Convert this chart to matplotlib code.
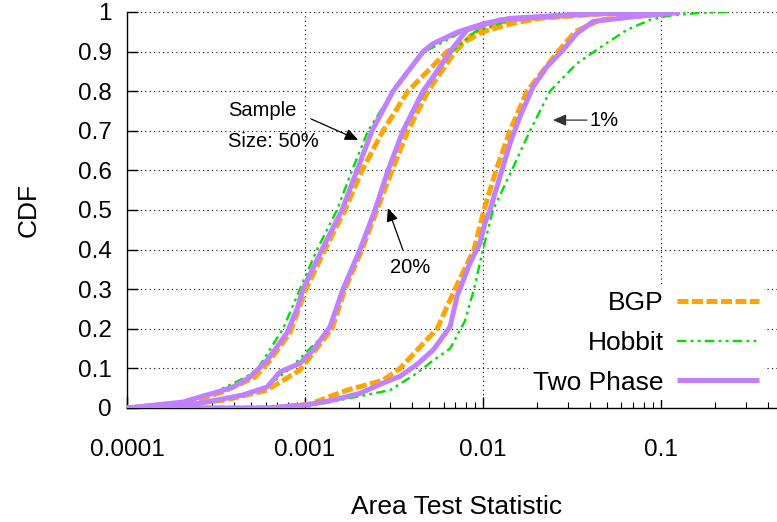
import matplotlib
matplotlib.use("Agg")
import matplotlib.pyplot as plt
from matplotlib.ticker import LogLocator, FixedLocator, NullFormatter, FixedFormatter

plt.rcParams['font.family'] = ['Liberation Sans', 'DejaVu Sans']
plt.rcParams['xtick.direction'] = 'in'
plt.rcParams['ytick.direction'] = 'in'
plt.rcParams['xtick.major.pad'] = 22
plt.rcParams['ytick.major.pad'] = 11
plt.rcParams['xtick.major.size'] = 8
plt.rcParams['ytick.major.size'] = 8
plt.rcParams['xtick.minor.size'] = 4.5
plt.rcParams['xtick.major.width'] = 1.0
plt.rcParams['ytick.major.width'] = 1.0
plt.rcParams['xtick.minor.width'] = 0.8

# ---- CDF curves of the area test statistic, per sample size and method ----
# Sample size 50%
bgp_50_x = [1.0e-4, 2.259e-4, 3.418e-4, 5.24e-4, 6.36e-4, 8.24e-4, 1.013e-3, 1.295e-3,
            1.678e-3, 2.090e-3, 2.743e-3, 3.79e-3, 6.28e-3, 1.0e-2, 1.418e-2, 2.090e-2,
            4.54e-2, 0.1278]
bgp_50_cdf = [0, 0.015, 0.04, 0.078, 0.12, 0.19, 0.3, 0.4, 0.5, 0.6, 0.7, 0.8, 0.9,
              0.95, 0.97, 0.984, 0.995, 1.0]

hobbit_50_x = [1.0e-4, 1.986e-4, 3.122e-4, 4.662e-4, 5.445e-4, 7.52e-4, 9.37e-4, 1.168e-3,
               1.513e-3, 1.837e-3, 2.259e-3, 3.122e-3, 4.724e-3, 7.62e-3, 1.095e-2,
               1.614e-2, 3.99e-2, 0.1278]
hobbit_50_cdf = [0, 0.015, 0.04, 0.078, 0.1, 0.2, 0.3, 0.4, 0.5, 0.6, 0.7, 0.8, 0.9,
                 0.95, 0.97, 0.984, 0.995, 1.0]

twophase_50_x = [1.0e-4, 2.06e-4, 2.57e-4, 3.20e-4, 3.94e-4, 4.91e-4, 6.12e-4, 7.93e-4,
                 9.02e-4, 9.74e-4, 1.246e-3, 1.614e-3, 1.960e-3, 2.379e-3, 3.122e-3,
                 4.603e-3, 5.24e-3, 7.24e-3, 1.0e-2, 1.418e-2, 3.84e-2, 0.1247]
twophase_50_cdf = [0, 0.015, 0.028, 0.04, 0.053, 0.078, 0.12, 0.19, 0.25, 0.3, 0.4, 0.5,
                   0.6, 0.7, 0.8, 0.9, 0.92, 0.95, 0.97, 0.984, 0.995, 1.0]

# Sample size 20%
bgp_20_x = [1.0e-4, 1.346e-4, 3.553e-4, 6.12e-4, 9.37e-4, 1.418e-3, 1.678e-3, 2.090e-3,
            2.539e-3, 3.082e-3, 3.79e-3, 4.911e-3, 6.96e-3, 9.02e-3, 1.418e-2, 3.99e-2,
            0.1278]
bgp_20_cdf = [0, 0, 0.02, 0.045, 0.096, 0.2, 0.3, 0.4, 0.5, 0.6, 0.7, 0.8, 0.9, 0.95,
              0.98, 0.995, 1.0]

hobbit_20_x = [1.0e-4, 1.346e-4, 2.118e-4, 3.33e-4, 5.96e-4, 8.24e-4, 1.381e-3, 1.635e-3,
               2.037e-3, 2.442e-3, 2.926e-3, 3.599e-3, 4.724e-3, 6.69e-3, 9.02e-3,
               1.418e-2, 4.54e-2, 0.1364]
hobbit_20_cdf = [0, 0, 0.005, 0.02, 0.05, 0.1, 0.2, 0.3, 0.4, 0.5, 0.6, 0.7, 0.8, 0.9,
                 0.95, 0.98, 0.995, 1.0]

twophase_20_x = [1.0e-4, 1.346e-4, 2.064e-4, 3.204e-4, 4.485e-4, 6.12e-4, 7.24e-4, 9.37e-4,
                 1.109e-3, 1.381e-3, 1.635e-3, 2.037e-3, 2.474e-3, 2.926e-3, 3.553e-3,
                 4.603e-3, 5.24e-3, 6.53e-3, 8.13e-3, 1.246e-2, 3.51e-2, 0.1247]
twophase_20_cdf = [0, 0, 0.005, 0.02, 0.033, 0.053, 0.091, 0.113, 0.146, 0.205, 0.3, 0.4,
                   0.5, 0.6, 0.7, 0.8, 0.836, 0.9, 0.955, 0.98, 0.995, 1.0]

# Sample size 1%
bgp_1_x = [1.0e-4, 6.36e-4, 1.067e-3, 1.722e-3, 2.743e-3, 3.418e-3, 5.52e-3, 6.96e-3,
           8.90e-3, 1.013e-2, 1.183e-2, 1.418e-2, 1.767e-2, 2.637e-2, 3.29e-2, 4.54e-2,
           0.1278]
bgp_1_cdf = [0, 0, 0.01, 0.045, 0.07, 0.1, 0.2, 0.3, 0.4, 0.5, 0.6, 0.7, 0.8, 0.9, 0.95,
             0.98, 1.0]

hobbit_1_x = [1.0e-4, 9.37e-4, 1.573e-3, 3.003e-3, 4.258e-3, 5.24e-3, 6.53e-3, 7.92e-3,
              8.90e-3, 1.0e-2, 1.138e-2, 1.45e-2, 1.837e-2, 2.379e-2, 3.37e-2, 4.54e-2,
              6.44e-2, 8.67e-2, 0.1081, 0.1656, 0.2442]
hobbit_1_cdf = [0, 0, 0.02, 0.045, 0.088, 0.12, 0.15, 0.22, 0.3, 0.4, 0.5, 0.6, 0.7, 0.8,
                0.87, 0.91, 0.955, 0.98, 0.99, 0.998, 1.0]

twophase_1_x = [1.0e-4, 6.12e-4, 1.026e-3, 1.437e-3, 2.037e-3, 2.743e-3, 3.418e-3, 4.258e-3,
                5.24e-3, 6.53e-3, 7.14e-3, 8.45e-3, 9.62e-3, 1.026e-2, 1.095e-2, 1.246e-2,
                1.418e-2, 1.614e-2, 1.910e-2, 2.289e-2, 2.814e-2, 3.37e-2, 4.15e-2,
                6.97e-2, 0.1230, 0.1278]
twophase_1_cdf = [0, 0, 0.008, 0.02, 0.037, 0.063, 0.08, 0.11, 0.146, 0.205, 0.281, 0.366,
                  0.416, 0.467, 0.5, 0.584, 0.668, 0.736, 0.811, 0.862, 0.904, 0.946,
                  0.976, 0.988, 0.998, 1.0]

methods = ["BGP", "Hobbit", "Two Phase"]
y_ticks = [0, 0.1, 0.2, 0.3, 0.4, 0.5, 0.6, 0.7, 0.8, 0.9, 1]
y_tick_labels = ["0", "0.1", "0.2", "0.3", "0.4", "0.5", "0.6", "0.7", "0.8", "0.9", "1"]
x_ticks = [1e-4, 1e-3, 1e-2, 1e-1]
x_tick_labels = ["0.0001", "0.001", "0.01", "0.1"]

bgp_style = dict(color="#FFA500", lw=3.6, ls=(0, (2.2, 0.7)), zorder=3)
hobbit_style = dict(color="#00E000", lw=1.7, ls=(0, (4, 1.8, 1.2, 1.8, 1.2, 1.8)), zorder=4)
twophase_style = dict(color="#C080FF", lw=3.6, ls="-", zorder=5)

W, H = 777, 522
fig = plt.figure(figsize=(W / 100, H / 100), dpi=100)
ax_left, ax_bottom, ax_right_px = 127, 114, 785.4
ax = fig.add_axes([ax_left / W, ax_bottom / H, (ax_right_px - ax_left) / W, 396 / H])

ax.set_xscale("log")
ax.set_xlim(1e-4, 0.5)
ax.set_ylim(0, 1)

curves = [
    (bgp_50_x, bgp_50_cdf, bgp_style, None),
    (hobbit_50_x, hobbit_50_cdf, hobbit_style, None),
    (twophase_50_x, twophase_50_cdf, twophase_style, None),
    (bgp_20_x, bgp_20_cdf, bgp_style, None),
    (hobbit_20_x, hobbit_20_cdf, hobbit_style, None),
    (twophase_20_x, twophase_20_cdf, twophase_style, None),
    (bgp_1_x, bgp_1_cdf, bgp_style, methods[0]),
    (hobbit_1_x, hobbit_1_cdf, hobbit_style, methods[1]),
    (twophase_1_x, twophase_1_cdf, twophase_style, methods[2]),
]
handles = {}
for xs, ys, st, name in curves:
    ln, = ax.plot(xs, ys, solid_capstyle="butt", dash_capstyle="butt", **st)
    if name:
        handles[name] = ln

# ticks and grid
ax.xaxis.set_major_locator(FixedLocator(x_ticks))
ax.xaxis.set_major_formatter(FixedFormatter(x_tick_labels))
ax.xaxis.set_minor_locator(LogLocator(base=10, subs=range(2, 10), numticks=20))
ax.xaxis.set_minor_formatter(NullFormatter())
ax.set_yticks(y_ticks)
ax.set_yticklabels(y_tick_labels)
ax.tick_params(axis="both", which="major", labelsize=17.5, colors="black")
ax.grid(True, which="major", color="black", linestyle=(0, (1, 3)), linewidth=0.8)
ax.set_axisbelow(True)
for side in ("top", "right"):
    ax.spines[side].set_visible(False)
for side in ("left", "bottom"):
    ax.spines[side].set_linewidth(1.0)

ax.set_xlabel("Area Test Statistic", fontsize=19, labelpad=25)
ax.set_ylabel("CDF", fontsize=19, labelpad=27)

# annotations for each sample size
arrow_kw = dict(arrowstyle="-|>,head_length=0.8,head_width=0.35", color="black", lw=0.9,
                shrinkA=0, shrinkB=0)
ax.annotate("", xy=(1.99e-3, 0.677), xytext=(1.081e-3, 0.730), arrowprops=arrow_kw,
            zorder=6)
ax.text(3.69e-4, 0.75, "Sample", fontsize=14.5, va="center", ha="left")
ax.text(3.69e-4, 0.672, "Size: 50%", fontsize=14.5, va="center", ha="left")

ax.annotate("", xy=(2.92e-3, 0.505), xytext=(3.55e-3, 0.399), arrowprops=arrow_kw,
            zorder=6)
ax.text(3.89e-3, 0.354, "20%", fontsize=14.5, va="center", ha="center")

ax.annotate("", xy=(2.47e-2, 0.727), xytext=(3.84e-2, 0.727),
            arrowprops=dict(arrow_kw, color="#333333"), zorder=6)
ax.text(3.95e-2, 0.727, "1%", fontsize=14.5, va="center", ha="left")

leg = ax.legend([handles[m] for m in methods], methods, loc="lower right",
                bbox_to_anchor=(764 / W, 122 / H), bbox_transform=fig.transFigure,
                fontsize=19, markerfirst=False, frameon=True, fancybox=False,
                edgecolor="none", facecolor="white", framealpha=1.0,
                handlelength=3.1, handletextpad=0.5, labelspacing=0.6,
                borderpad=0.2, borderaxespad=0)
leg.set_zorder(10)

fig.savefig("out.png", dpi=100)
